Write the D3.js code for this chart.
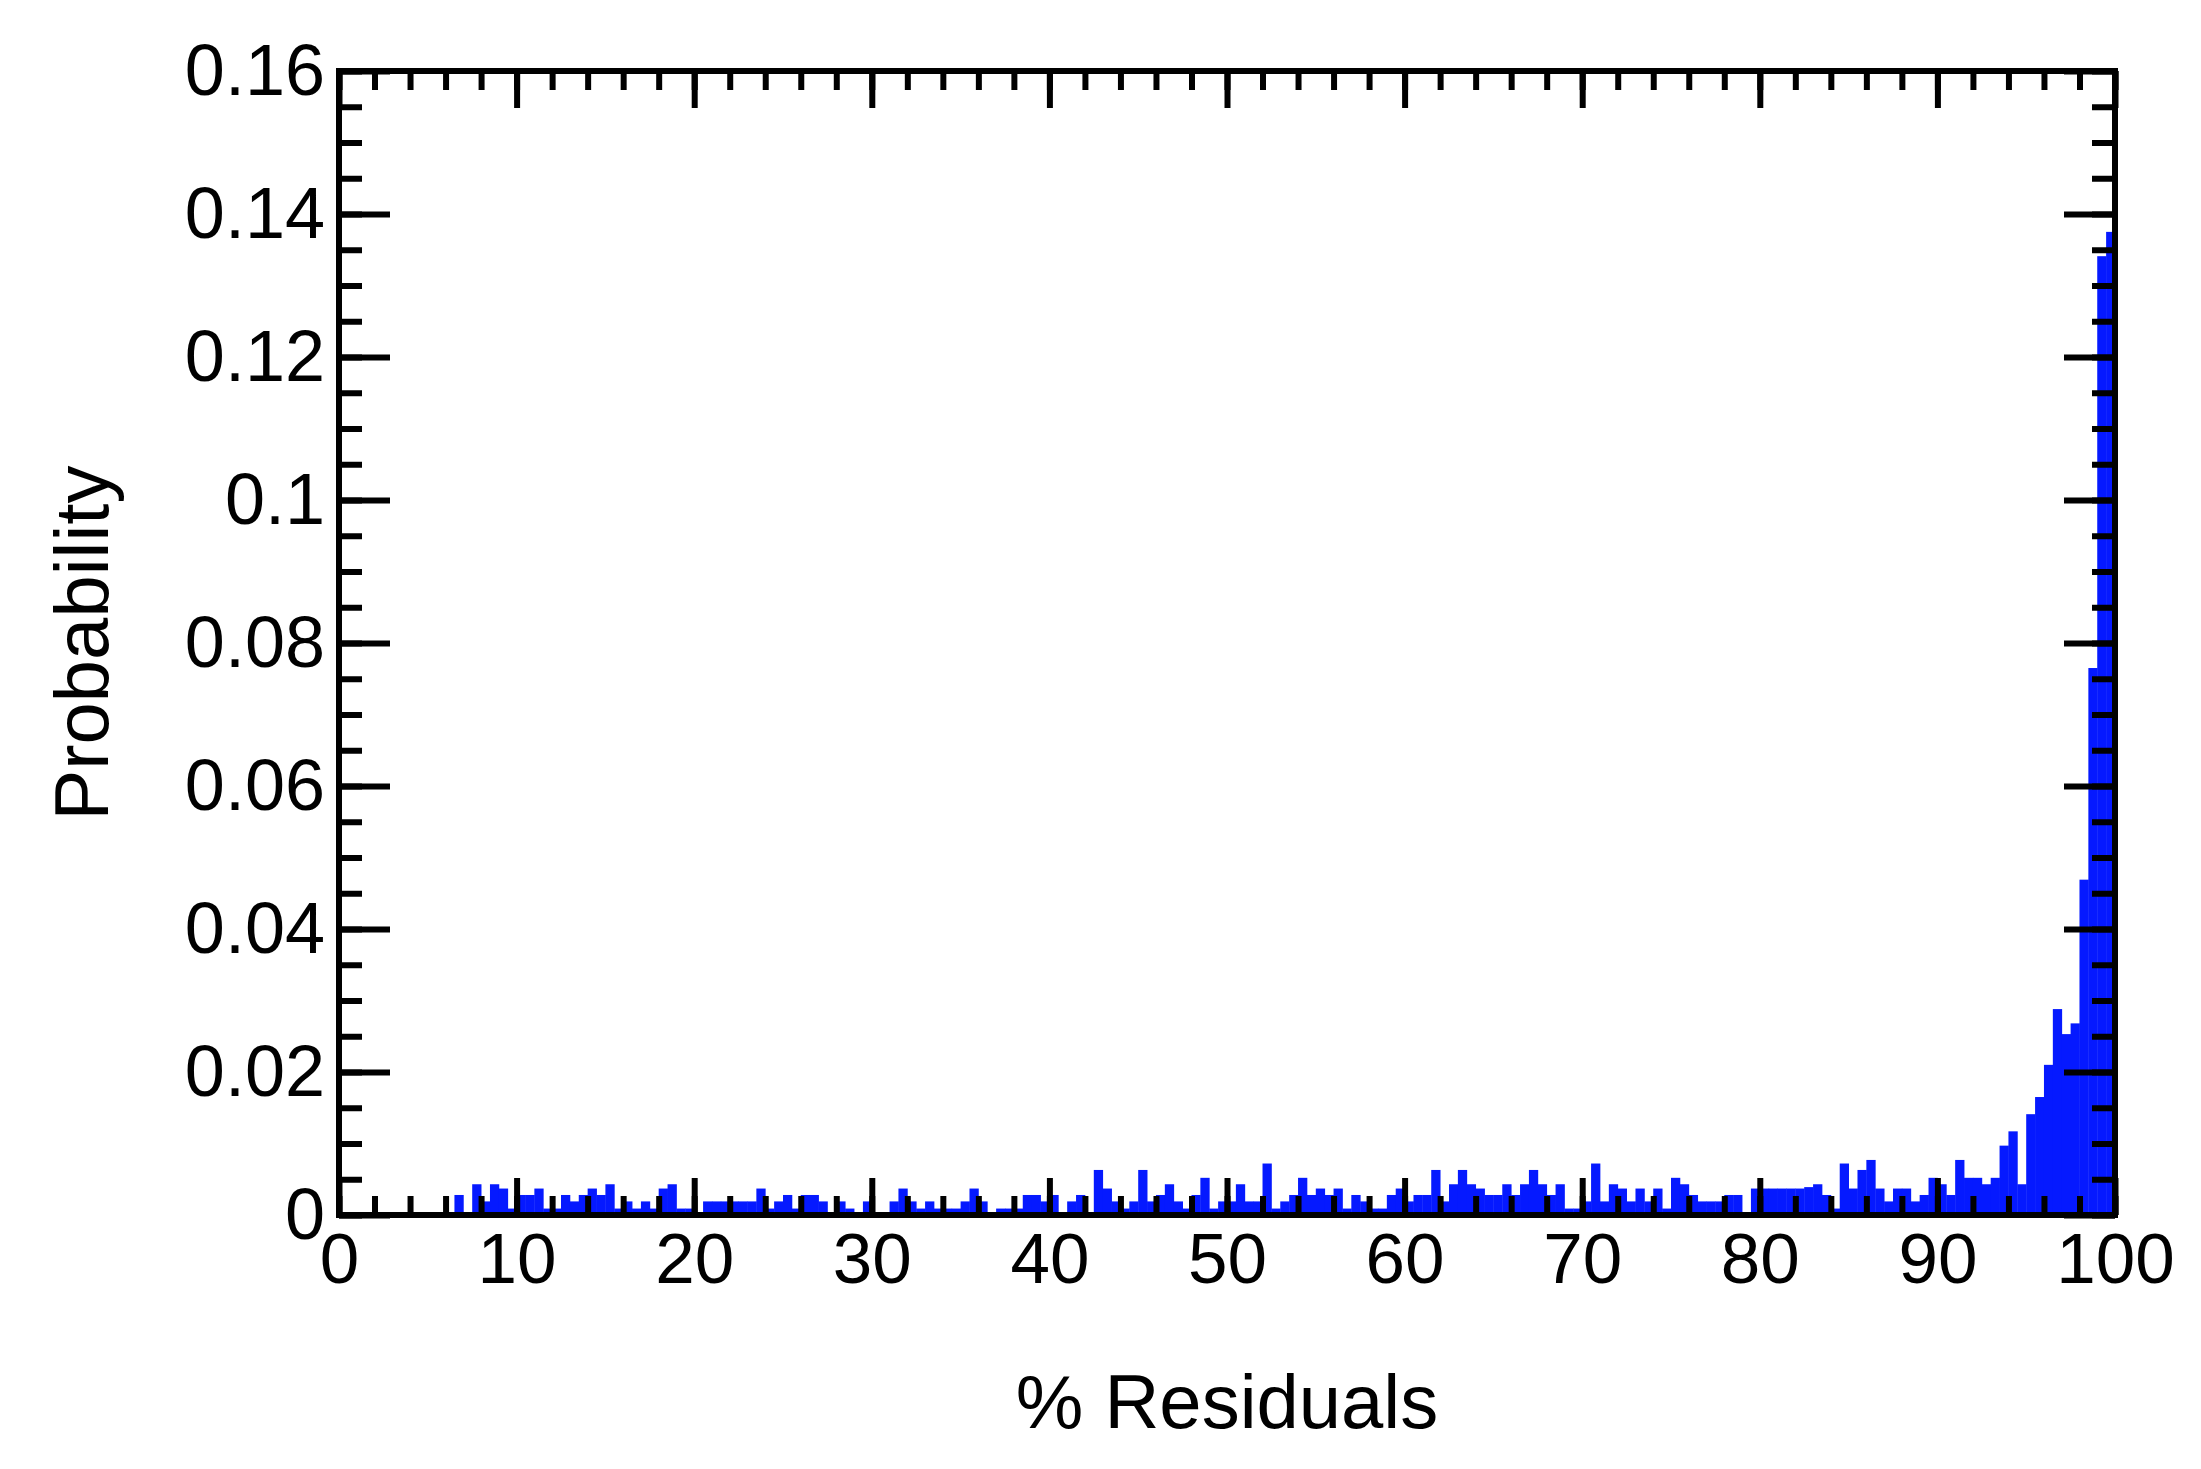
<!DOCTYPE html>
<html>
<head>
<meta charset="utf-8">
<script src="https://cdn.jsdelivr.net/npm/d3@7"></script>
<style>
  html, body { margin: 0; padding: 0; background: #ffffff; }
  svg text { font-family: "Liberation Sans", Arial, Helvetica, sans-serif; fill: #000; }
</style>
</head>
<body>
<svg id="chart" width="2201" height="1469"></svg>
<script>
// ---- data ----
const binWidth = 0.5;            // % residual bin width
const binStart = 0;              // first bin left edge
// probability per 0.5% bin, from 0 to 100
const probabilities = [
  0,0,0,0,0,0,0,0,0,0,               // 0-5
  0,0,0,0.0028,0,0.0043,0.0019,0.0043,0.0037,0.0009,   // 5-10
  0.0028,0.0028,0.0037,0.0009,0.0009,0.0028,0.0019,0.0028,0.0037,0.0028, // 10-15
  0.0043,0.0009,0.0019,0.0009,0.0019,0.0009,0.0037,0.0043,0.0009,0.0009, // 15-20
  0,0.0019,0.0019,0.0019,0.0019,0.0019,0.0019,0.0037,0.0009,0.0019,      // 20-25
  0.0028,0.0009,0.0028,0.0028,0.0019,0,0.0019,0.0009,0,0.0019,           // 25-30
  0,0,0.0019,0.0037,0.0019,0.0009,0.0019,0.0009,0.0009,0.0009,           // 30-35
  0.0019,0.0037,0.0019,0,0.0009,0.0009,0.0009,0.0028,0.0028,0.0019,      // 35-40
  0.0028,0,0.0019,0.0028,0,0.0063,0.0037,0.0019,0.0009,0.0019,           // 40-45
  0.0063,0.0019,0.0028,0.0043,0.0019,0.0009,0.0028,0.0052,0.0009,0.0019, // 45-50
  0.0019,0.0043,0.0019,0.0019,0.0072,0.0009,0.0019,0.0028,0.0052,0.0028, // 50-55
  0.0037,0.0028,0.0037,0.0009,0.0028,0.0019,0.0009,0.0009,0.0028,0.0037, // 55-60
  0.0019,0.0028,0.0028,0.0063,0.0019,0.0043,0.0063,0.0043,0.0037,0.0028, // 60-65
  0.0028,0.0043,0.0028,0.0043,0.0063,0.0043,0.0028,0.0043,0.0009,0.0009, // 65-70
  0.0019,0.0072,0.0019,0.0043,0.0037,0.0019,0.0037,0.0019,0.0037,0.0009, // 70-75
  0.0052,0.0043,0.0028,0.0019,0.0019,0.0019,0.0028,0.0028,0,0.0037,      // 75-80
  0.0037,0.0037,0.0037,0.0037,0.0037,0.0039,0.0043,0.0028,0.0009,0.0072, // 80-85
  0.0037,0.0063,0.0077,0.0037,0.0019,0.0037,0.0037,0.0019,0.0028,0.0052, // 85-90
  0.0043,0.0028,0.0077,0.0052,0.0052,0.0043,0.0052,0.0097,0.0117,0.0043, // 90-95
  0.0141,0.0165,0.0210,0.0288,0.0253,0.0268,0.0469,0.0765,0.1341,0.1375  // 95-100
];
const xMajorTicks = [0, 10, 20, 30, 40, 50, 60, 70, 80, 90, 100];
const xMinorTicks = d3.range(0, 100.001, 2);
const yMajorTicks = [0, 0.02, 0.04, 0.06, 0.08, 0.1, 0.12, 0.14, 0.16];
const yMajorLabels = ["0", "0.02", "0.04", "0.06", "0.08", "0.1", "0.12", "0.14", "0.16"];
const yMinorTicks = d3.range(0, 0.1601, 0.005);
const xTitle = "% Residuals";
const yTitle = "Probability";

// ---- layout ----
const L = 339, R = 2115, T = 71, B = 1215;
const svg = d3.select("#chart");

const x = d3.scaleLinear().domain([0, 100]).range([L, R]);
const y = d3.scaleLinear().domain([0, 0.16]).range([B, T]);

const bins = probabilities.map((p, i) => ({ x0: binStart + i * binWidth, x1: binStart + (i + 1) * binWidth, p }));

svg.append("g")
  .selectAll("rect")
  .data(bins.filter(d => d.p > 0))
  .join("rect")
  .attr("x", d => x(d.x0))
  .attr("width", d => x(d.x1) - x(d.x0) + 0.4)
  .attr("y", d => y(d.p))
  .attr("height", d => y(0) - y(d.p))
  .attr("fill", "rgb(5,25,255)");

const tickW = 6;
function styleAxis(g) {
  g.select(".domain").remove();
  g.selectAll(".tick line").attr("stroke", "#000").attr("stroke-width", tickW);
}

const fmtY = v => yMajorLabels[yMajorTicks.indexOf(v)];

// bottom
svg.append("g").attr("transform", `translate(0,${B})`)
  .call(d3.axisBottom(x).tickValues(xMinorTicks).tickSize(-19).tickFormat(""))
  .call(styleAxis);
svg.append("g").attr("transform", `translate(0,${B})`)
  .call(d3.axisBottom(x).tickValues(xMajorTicks).tickSize(-37).tickPadding(18).tickFormat(d3.format("d")))
  .call(styleAxis)
  .call(g => g.selectAll("text").attr("font-size", 71));
// top
svg.append("g").attr("transform", `translate(0,${T})`)
  .call(d3.axisTop(x).tickValues(xMinorTicks).tickSize(-19).tickFormat(""))
  .call(styleAxis);
svg.append("g").attr("transform", `translate(0,${T})`)
  .call(d3.axisTop(x).tickValues(xMajorTicks).tickSize(-37).tickFormat(""))
  .call(styleAxis);
// left
svg.append("g").attr("transform", `translate(${L},0)`)
  .call(d3.axisLeft(y).tickValues(yMinorTicks).tickSize(-23).tickFormat(""))
  .call(styleAxis);
svg.append("g").attr("transform", `translate(${L},0)`)
  .call(d3.axisLeft(y).tickValues(yMajorTicks).tickSize(-51).tickPadding(14).tickFormat(fmtY))
  .call(styleAxis)
  .call(g => g.selectAll("text").attr("font-size", 72));
// right
svg.append("g").attr("transform", `translate(${R},0)`)
  .call(d3.axisRight(y).tickValues(yMinorTicks).tickSize(-23).tickFormat(""))
  .call(styleAxis);
svg.append("g").attr("transform", `translate(${R},0)`)
  .call(d3.axisRight(y).tickValues(yMajorTicks).tickSize(-51).tickFormat(""))
  .call(styleAxis);

// frame
svg.append("rect")
  .attr("x", L).attr("y", T).attr("width", R - L).attr("height", B - T)
  .attr("fill", "none").attr("stroke", "#000").attr("stroke-width", 6);

// titles
svg.append("text")
  .attr("x", (L + R) / 2).attr("y", 1428)
  .attr("text-anchor", "middle").attr("font-size", 76)
  .text(xTitle);
svg.append("text")
  .attr("transform", `translate(108,${(T + B) / 2}) rotate(-90)`)
  .attr("text-anchor", "middle").attr("font-size", 76)
  .text(yTitle);
</script>
</body>
</html>
